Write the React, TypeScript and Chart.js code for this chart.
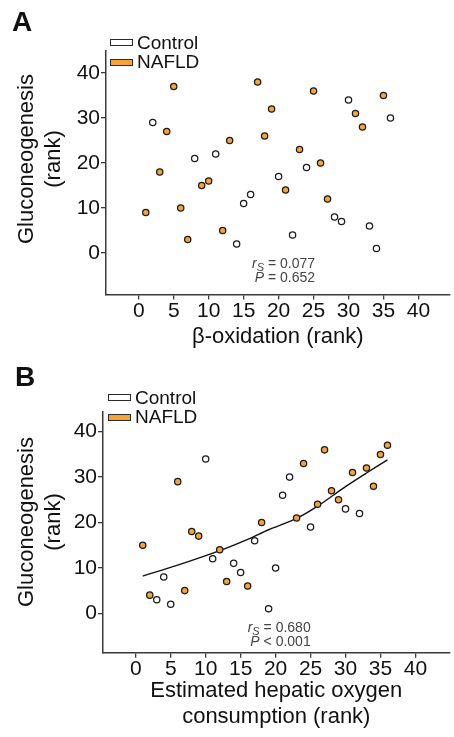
import React, { useEffect, useRef } from "react";
import { Chart, registerables } from "chart.js";

Chart.register(...registerables);

// ---------------- data ----------------
const xTickValues = [0, 5, 10, 15, 20, 25, 30, 35, 40];
const yTickValues = [0, 10, 20, 30, 40];
const seriesNames = ["Control", "NAFLD"];

// Panel A: beta-oxidation (rank) vs gluconeogenesis (rank)
const aControlX = [2, 8, 11, 14, 15, 16, 20, 22, 24, 28, 29, 30, 33, 34, 36];
const aControlY = [29, 21, 22, 2, 11, 13, 17, 4, 19, 8, 7, 34, 6, 1, 30];
const aNafldX = [1, 3, 4, 5, 6, 7, 9, 10, 12, 13, 17, 18, 19, 21, 23, 25, 26, 27, 31, 32, 35];
const aNafldY = [9, 18, 27, 37, 10, 3, 15, 16, 5, 25, 38, 26, 32, 14, 23, 36, 20, 12, 31, 28, 35];

// Panel B: estimated hepatic oxygen consumption (rank) vs gluconeogenesis (rank)
const bControlX = [3, 4, 5, 10, 11, 14, 15, 17, 19, 20, 21, 22, 25, 30, 32];
const bControlY = [3, 8, 2, 34, 12, 11, 9, 16, 1, 10, 26, 30, 19, 23, 22];
const bNafldX = [1, 2, 6, 7, 8, 9, 12, 13, 16, 18, 23, 24, 26, 27, 28, 29, 31, 33, 34, 35, 36];
const bNafldY = [15, 4, 29, 5, 18, 17, 14, 7, 6, 20, 21, 33, 24, 36, 27, 25, 31, 32, 28, 35, 37];
const bFitX = [1, 6, 12, 16, 19, 23, 26, 30, 33, 36];
const bFitY = [8.2, 10.6, 13.8, 16.3, 18.4, 20.9, 23.6, 27.9, 30.9, 33.8];

const aStats = { r: "0.077", p: "= 0.652" };
const bStats = { r: "0.680", p: "< 0.001" };

// ---------------- styles ----------------
const FONT = "'Liberation Sans', Arial, Helvetica, sans-serif";
const ORANGE = "#F6A532";
const AXIS = "#3a3a3a";
const INK = "#111111";
const W = 454;

function pts(xs: number[], ys: number[]) {
  return xs.map((x, i) => ({ x, y: ys[i] }));
}

type PanelSpec = {
  top: number;
  h: number;
  padTop: number;
  yAxisWidth: number;
  xAxisHeight: number;
  xMin: number;
  xMax: number;
  yMin: number;
  yMax: number;
  xTitle: string | string[];
  xTitlePadBottom: number;
  controlX: number[];
  controlY: number[];
  nafldX: number[];
  nafldY: number[];
  fitX?: number[];
  fitY?: number[];
};

function ScatterPanel({ spec }: { spec: PanelSpec }) {
  const ref = useRef<HTMLCanvasElement>(null);
  useEffect(() => {
    const pointBase = {
      borderColor: "#1a1a1a",
      borderWidth: 1.25,
      pointRadius: 3.15,
      pointHoverRadius: 3.15,
      showLine: false,
    };
    const datasets: any[] = [
      {
        ...pointBase,
        label: seriesNames[1],
        data: pts(spec.nafldX, spec.nafldY),
        backgroundColor: ORANGE,
      },
      {
        ...pointBase,
        label: seriesNames[0],
        data: pts(spec.controlX, spec.controlY),
        backgroundColor: "#ffffff",
      },
    ];
    if (spec.fitX && spec.fitY) {
      datasets.push({
        label: "fit",
        data: pts(spec.fitX, spec.fitY),
        showLine: true,
        borderColor: "#111111",
        borderWidth: 1.4,
        pointRadius: 0,
        fill: false,
        tension: 0.3,
      });
    }
    const tickFont = { family: FONT, size: 21, lineHeight: 1.1 };
    const chart = new Chart(ref.current!, {
      type: "scatter",
      data: { datasets },
      options: {
        responsive: false,
        animation: false,
        events: [],
        layout: { padding: { top: spec.padTop, right: 2, left: 0, bottom: 0 } },
        plugins: { legend: { display: false }, tooltip: { enabled: false } },
        scales: {
          x: {
            type: "linear",
            min: spec.xMin,
            max: spec.xMax,
            afterBuildTicks: (s: any) => {
              s.ticks = xTickValues.map((v) => ({ value: v }));
            },
            afterFit: (s: any) => {
              s.height = spec.xAxisHeight;
            },
            border: { display: true, color: AXIS, width: 1.5 },
            grid: {
              display: true,
              drawOnChartArea: false,
              drawTicks: true,
              tickLength: 5,
              color: AXIS,
              lineWidth: 1.3,
            },
            ticks: {
              color: INK,
              font: tickFont,
              padding: 0,
              autoSkip: false,
              maxRotation: 0,
              callback: (v: any) => String(v),
            },
            title: {
              display: true,
              text: spec.xTitle,
              color: INK,
              font: { family: FONT, size: 22, lineHeight: 1.2 },
              padding: { top: 0, bottom: spec.xTitlePadBottom },
            },
          },
          y: {
            type: "linear",
            min: spec.yMin,
            max: spec.yMax,
            afterBuildTicks: (s: any) => {
              s.ticks = yTickValues.map((v) => ({ value: v }));
            },
            afterFit: (s: any) => {
              s.width = spec.yAxisWidth;
            },
            border: { display: true, color: AXIS, width: 1.5 },
            grid: {
              display: true,
              drawOnChartArea: false,
              drawTicks: true,
              tickLength: 5,
              color: AXIS,
              lineWidth: 1.3,
            },
            ticks: {
              color: INK,
              font: tickFont,
              padding: 1,
              autoSkip: false,
              callback: (v: any) => String(v),
            },
            title: { display: false },
          },
        },
      } as any,
    });
    return () => chart.destroy();
  }, []);
  return (
    <canvas
      ref={ref}
      width={W}
      height={spec.h}
      style={{ position: "absolute", left: 0, top: spec.top, width: W, height: spec.h }}
    />
  );
}

function Legend({ left, swatchTop, textLeft }: { left: number; swatchTop: number; textLeft: number }) {
  const sw = (top: number, bg: string) => (
    <div
      style={{
        position: "absolute",
        left,
        top,
        width: 23,
        height: 7,
        boxSizing: "border-box",
        border: "1.3px solid #2a2a2a",
        background: bg,
      }}
    />
  );
  const txt = (top: number, label: string) => (
    <div
      style={{
        position: "absolute",
        left: textLeft,
        top,
        fontFamily: FONT,
        fontSize: 19,
        lineHeight: "20px",
        color: INK,
        whiteSpace: "nowrap",
      }}
    >
      {label}
    </div>
  );
  return (
    <>
      {sw(swatchTop, "#ffffff")}
      {txt(swatchTop - 6.5, seriesNames[0])}
      {sw(swatchTop + 19.5, ORANGE)}
      {txt(swatchTop + 13, seriesNames[1])}
    </>
  );
}

function YTitle({ cx, cy }: { cx: number; cy: number }) {
  return (
    <div
      style={{
        position: "absolute",
        left: cx,
        top: cy,
        transform: "translate(-50%, -50%) rotate(-90deg)",
        fontFamily: FONT,
        fontSize: 22,
        lineHeight: "27px",
        textAlign: "center",
        whiteSpace: "nowrap",
        color: INK,
      }}
    >
      Gluconeogenesis
      <br />
      (rank)
    </div>
  );
}

function Stats({ right, top, r, p }: { right: number; top: number; r: string; p: string }) {
  const line: React.CSSProperties = {
    position: "absolute",
    right: W - right,
    fontFamily: FONT,
    fontSize: 14,
    lineHeight: "14px",
    color: "#444",
    whiteSpace: "nowrap",
  };
  return (
    <>
      <div style={{ ...line, top }}>
        <i>r</i>
        <span style={{ fontStyle: "italic", fontSize: 11, position: "relative", top: 3, lineHeight: 0 }}>S</span>
        {" = " + r}
      </div>
      <div style={{ ...line, top: top + 14 }}>
        <i>P</i>
        {" " + p}
      </div>
    </>
  );
}

function Letter({ left, top, ch }: { left: number; top: number; ch: string }) {
  return (
    <div
      style={{
        position: "absolute",
        left,
        top,
        fontFamily: FONT,
        fontWeight: "bold",
        fontSize: 28,
        lineHeight: "28px",
        color: INK,
      }}
    >
      {ch}
    </div>
  );
}

const panelA: PanelSpec = {
  top: 0,
  h: 370,
  padTop: 50.5,
  yAxisWidth: 106,
  xAxisHeight: 75.5,
  xMin: -(139 - 106) / 7.04,
  xMax: (452 - 139) / 7.04,
  yMin: (253 - 294.5) / 4.5,
  yMax: (253 - 50.5) / 4.5,
  xTitle: "β-oxidation (rank)",
  xTitlePadBottom: 19.5,
  controlX: aControlX,
  controlY: aControlY,
  nafldX: aNafldX,
  nafldY: aNafldY,
};

const panelB: PanelSpec = {
  top: 370,
  h: 367,
  padTop: 41.7,
  yAxisWidth: 103,
  xAxisHeight: 367 - 282.7,
  xMin: -(136 - 103) / 7.04,
  xMax: (452 - 136) / 7.04,
  yMin: (613.3 - 652.7) / 4.54,
  yMax: (613.3 - 411.7) / 4.54,
  xTitle: ["Estimated hepatic oxygen", "consumption (rank)"],
  xTitlePadBottom: 6.8,
  controlX: bControlX,
  controlY: bControlY,
  nafldX: bNafldX,
  nafldY: bNafldY,
  fitX: bFitX,
  fitY: bFitY,
};

export default function App() {
  return (
    <div
      style={{
        position: "absolute",
        left: 0,
        top: 0,
        width: W,
        height: 737,
        background: "#ffffff",
        overflow: "hidden",
      }}
    >
      <ScatterPanel spec={panelA} />
      <ScatterPanel spec={panelB} />
      <Letter left={12} top={8.3} ch="A" />
      <Letter left={15} top={363} ch="B" />
      <Legend left={110} swatchTop={39} textLeft={137} />
      <Legend left={108} swatchTop={394.3} textLeft={135} />
      <YTitle cx={38.9} cy={159} />
      <YTitle cx={38.9} cy={522} />
      <Stats right={315} top={256.4} r={aStats.r} p={aStats.p} />
      <Stats right={310.7} top={619.6} r={bStats.r} p={bStats.p} />
    </div>
  );
}
